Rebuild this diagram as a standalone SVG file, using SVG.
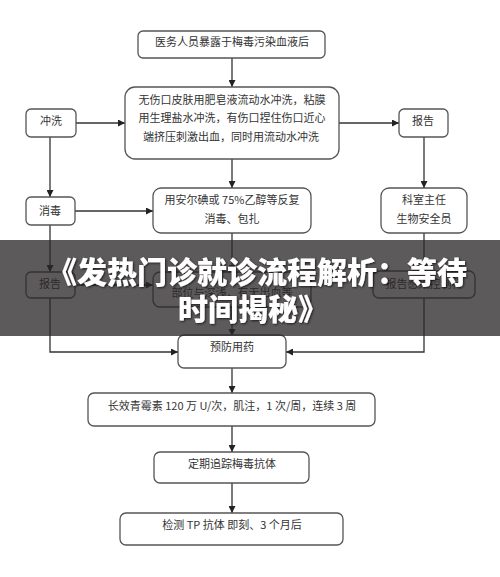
<svg xmlns="http://www.w3.org/2000/svg" width="500" height="577" viewBox="0 0 500 577">
<style>
.b{fill:#fff;stroke:#555;stroke-width:1.3}
.t{font-family:"Noto Sans CJK SC","Noto Sans",sans-serif;font-size:11px;fill:#333;text-anchor:middle}
.c{fill:none;stroke:#333;stroke-width:1.3;marker-end:url(#ah)}
.title{font-family:"Noto Sans CJK SC",sans-serif;font-weight:900;font-size:30px;fill:#fff;text-anchor:middle}
</style>
<defs>
<marker id="ah" viewBox="0 0 10 10" refX="10" refY="5" markerWidth="7" markerHeight="7" markerUnits="userSpaceOnUse" orient="auto">
<path d="M0,0 L10,5 L0,10 z" fill="#222"/>
</marker>
<filter id="sh" x="-10%" y="-30%" width="120%" height="160%">
<feDropShadow dx="1" dy="1" stdDeviation="1" flood-color="#000" flood-opacity="0.7"/>
</filter>
</defs>
<rect width="500" height="577" fill="#fff"/>
<g id="connectors">
<path class="c" d="M232,58 V87"/>
<path class="c" d="M76,123 H125"/>
<path class="c" d="M339,123 H399"/>
<path class="c" d="M50,137 V197"/>
<path class="c" d="M424,137 V188"/>
<path class="c" d="M232,159 V188"/>
<path class="c" d="M75,211 H153"/>
<path class="c" d="M50,225 V272"/>
<path class="c" d="M232,233 V272"/>
<path class="c" d="M424,233 V271"/>
<path class="c" d="M75,285 H153"/>
<path class="c" d="M232,307 V336"/>
<path class="c" d="M50,298 V352 H178"/>
<path class="c" d="M424,298 V352 H286"/>
<path class="c" d="M232,368 V393"/>
<path class="c" d="M232,426 V452"/>
<path class="c" d="M232,483 V513"/>
</g>
<g id="n1"><rect class="b" x="138" y="31" width="187" height="27" rx="5"/><text class="t" x="232" y="46">医务人员暴露于梅毒污染血液后</text></g>
<g id="n2"><rect class="b" x="125" y="87" width="214" height="72" rx="10"/>
<text class="t" x="232" y="104">无伤口皮肤用肥皂液流动水冲洗，粘膜</text>
<text class="t" x="232" y="122">用生理盐水冲洗，有伤口捏住伤口近心</text>
<text class="t" x="231" y="141">端挤压刺激出血，同时用流动水冲洗</text></g>
<g id="n3"><rect class="b" x="26" y="109" width="50" height="28" rx="5"/><text class="t" x="51" y="125">冲洗</text></g>
<g id="n4"><rect class="b" x="399" y="109" width="49" height="28" rx="5"/><text class="t" x="423" y="125">报告</text></g>
<g id="n5"><rect class="b" x="26" y="197" width="49" height="28" rx="5"/><text class="t" x="50" y="215">消毒</text></g>
<g id="n6"><rect class="b" x="153" y="188" width="158" height="45" rx="8"/>
<text class="t" x="232" y="204">用安尔碘或 75%乙醇等反复</text>
<text class="t" x="232" y="223">消毒、包扎</text></g>
<g id="n7"><rect class="b" x="381" y="188" width="86" height="45" rx="8"/>
<text class="t" x="424" y="204">科室主任</text>
<text class="t" x="424" y="223">生物安全员</text></g>
<g id="n8"><rect class="b" x="26" y="272" width="49" height="26" rx="5"/><text class="t" x="50" y="288">报告</text></g>
<g id="n9"><rect class="b" x="153" y="272" width="158" height="35" rx="7"/>
<text class="t" x="232" y="297">部位与深浅，有无出血等</text></g>
<g id="n10"><rect class="b" x="373" y="271" width="102" height="27" rx="6"/><text class="t" x="424" y="288">报告感染控制科</text></g>
<g id="n11"><rect class="b" x="178" y="335" width="108" height="33" rx="6"/><text class="t" x="232" y="351">预防用药</text></g>
<g id="n12"><rect class="b" x="88" y="393" width="287" height="33" rx="6"/><text class="t" x="232" y="410">长效青霉素 120 万 U/次，肌注，1 次/周，连续 3 周</text></g>
<g id="n13"><rect class="b" x="154" y="452" width="155" height="31" rx="6"/><text class="t" x="232" y="468">定期追踪梅毒抗体</text></g>
<g id="n14"><rect class="b" x="120" y="513" width="223" height="32" rx="6"/><text class="t" x="232" y="529">检测 TP 抗体 即刻、3 个月后</text></g>
<rect x="0" y="240" width="500" height="96" fill="#2a2628" opacity="0.76"/>
<g filter="url(#sh)">
<text class="title" x="257" y="283">《发热门诊就诊流程解析：等待</text>
<text class="title" x="253" y="320">时间揭秘》</text>
</g>
</svg>
